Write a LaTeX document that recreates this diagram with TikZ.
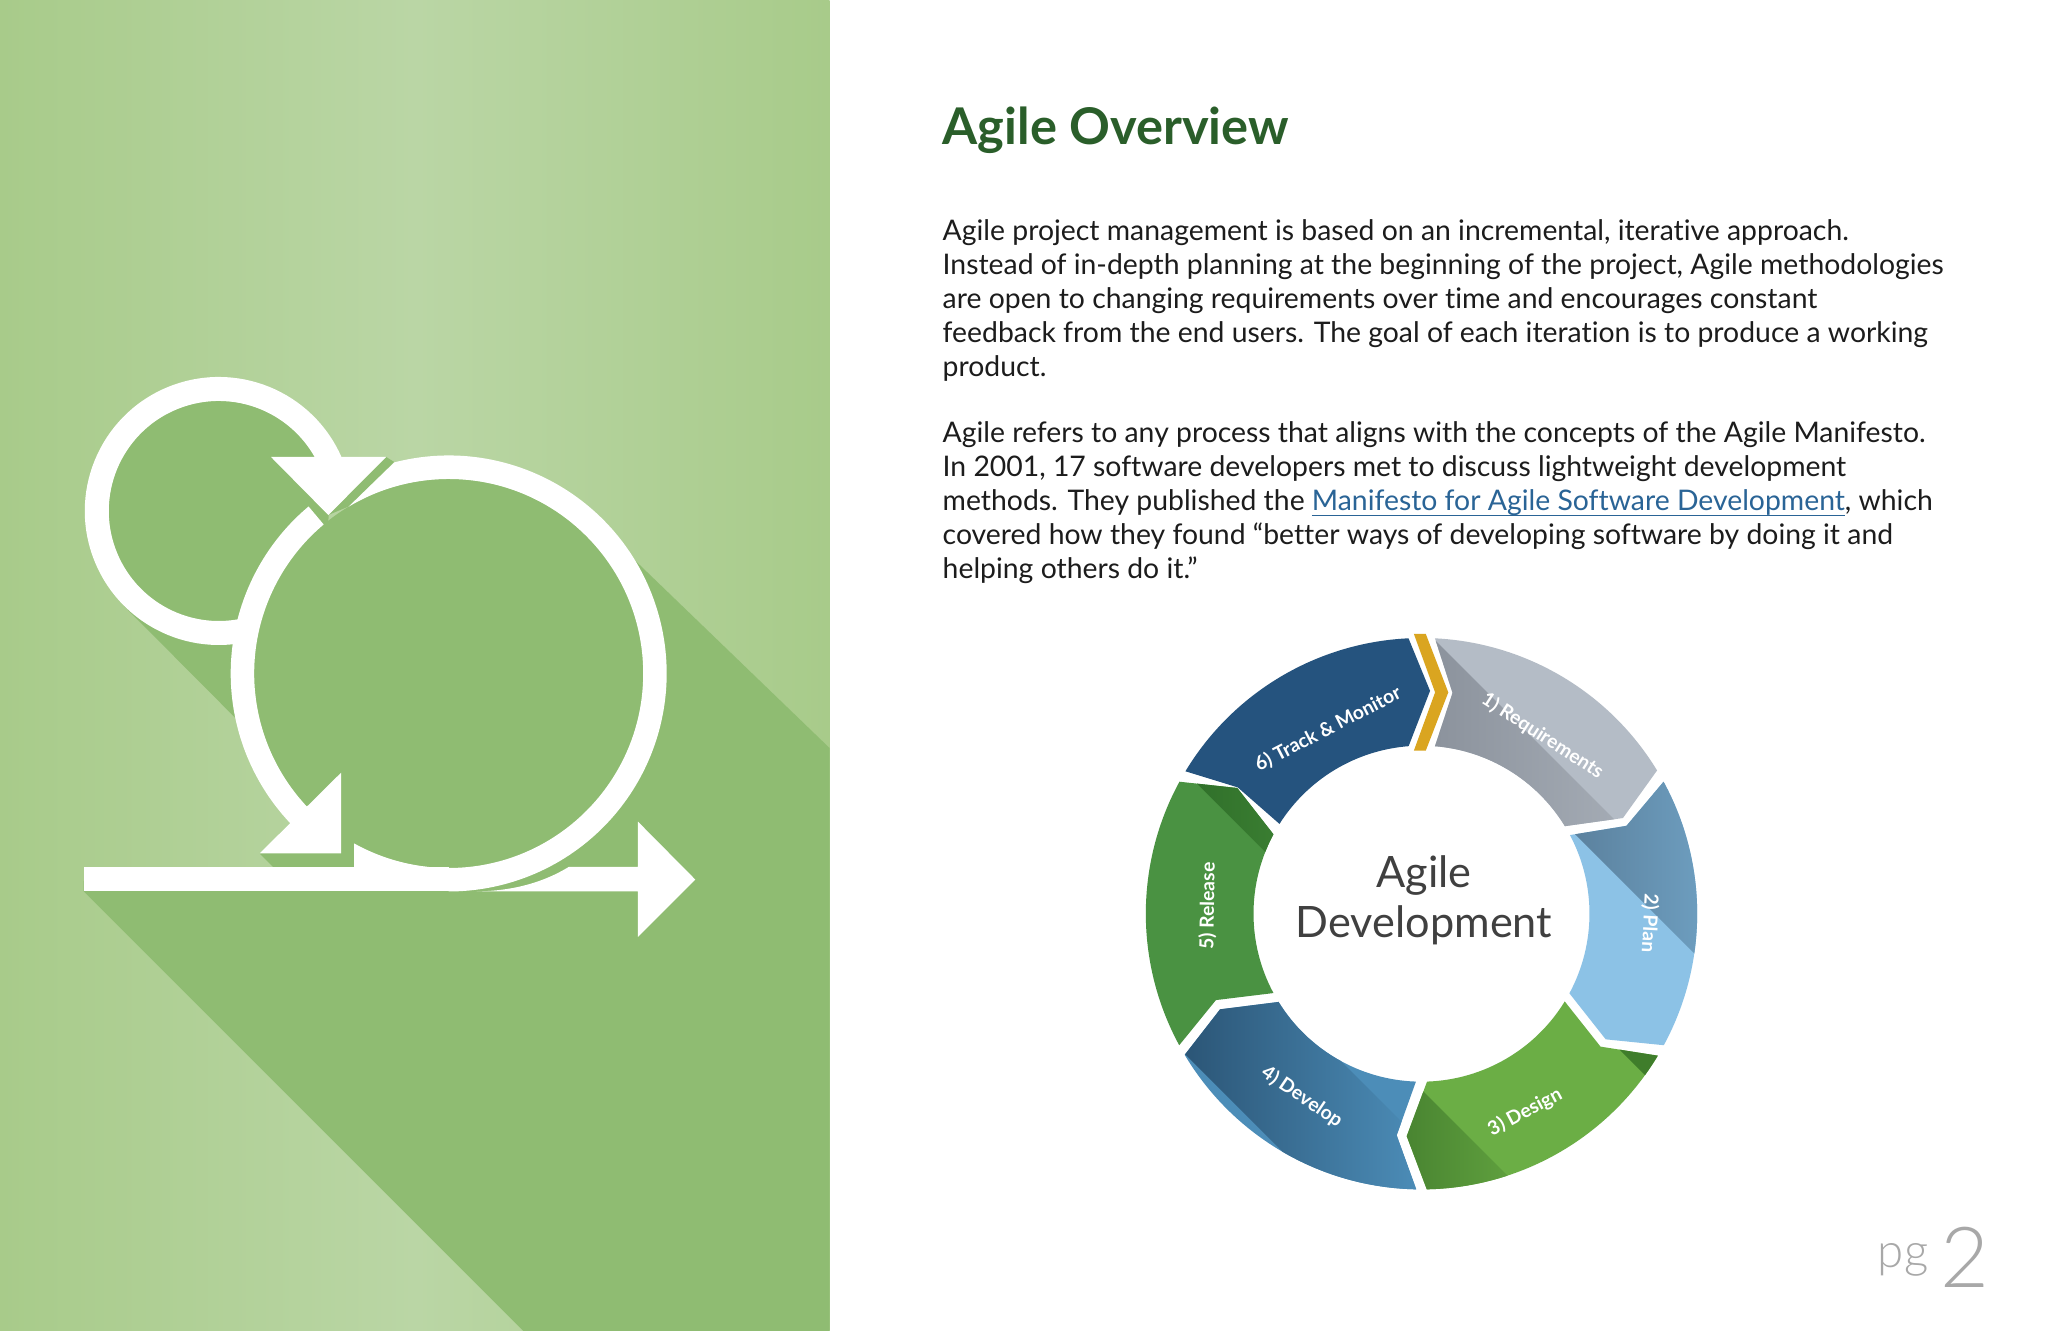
\documentclass[tikz,border=0pt]{standalone}
\usepackage{fontspec}
\usepackage{xcolor}
\setmainfont{Lato}[Ligatures=NoCommon]
\newfontfamily\lightfont{Lato Light}
\usetikzlibrary{calc}
\usetikzlibrary{positioning}
\definecolor{panelside}{HTML}{A8CB8A}
\definecolor{panelmid}{HTML}{BAD6A5}
\definecolor{shadowgreen}{HTML}{8FBC72}
\definecolor{titlegreen}{HTML}{2A5E2A}
\definecolor{linkblue}{HTML}{2A6496}
\definecolor{bodyblack}{HTML}{1C1C1C}
\definecolor{pagegrey}{HTML}{A8A8A8}
\definecolor{coregrey}{HTML}{404040}
\tikzset{
	bodytext/.style={anchor=north west,align=left,inner sep=0pt,text=bodyblack,font=\fontsize{8.07}{9.7}\selectfont},
	seglabel/.style={text=white,inner sep=0pt,font=\fontsize{5.5}{6}\selectfont\bfseries},
}
\newcommand{\segpath}[6]{(#1:2.757) arc[start angle=#1,end angle=#2,radius=2.757] -- (#3:2.23) -- (#4:1.68) arc[start angle=#4,end angle=#5,radius=1.68] -- (#6:2.23) -- cycle}
\begin{document}
\begin{tikzpicture}
	\useasboundingbox (0,0) rectangle (20.48,13.31);
	\fill[white] (0,0) rectangle (20.48,13.31);
	\shade[left color=panelside,right color=panelside,middle color=panelmid] (0,0) rectangle (8.295,13.31);
	\fill[shadowgreen] (0.837,4.396) -- (5.233,0) -- (8.295,0) -- (8.295,5.83) -- (6.335,7.72) -- (4.487,6.575) -- (4.487,4.5) -- (0.837,4.5) -- cycle;
	\fill[shadowgreen] (2.596,4.775) -- (2.731,4.64) -- (3.541,4.64) -- (3.541,5.0) -- (3.412,5.0) -- cycle;
	\fill[shadowgreen] (1.24,7.25) -- (2.354,6.13) -- (3,7) -- (2.188,8.2) -- cycle;
	\fill[shadowgreen] (3.862,8.74) -- (3.942,8.69) -- (3.486,8.245) -- (3.283,8.16) -- cycle;
	\begin{scope}[shift={(2.188,8.2)}]
		\fill[shadowgreen] (0,0) circle (1.1);
		\draw[white,line width=0.24cm] (20:1.22) arc[start angle=20,end angle=285,radius=1.22];
	\end{scope}
	\begin{scope}[shift={(4.487,6.575)}]
		\fill[shadowgreen] (0,0) circle (1.945);
		\fill[white] (104.45:2.18) arc[start angle=104.45,end angle=-90,radius=2.18] -- (-90:1.945) arc[start angle=-90,end angle=121,radius=1.945] -- cycle;
		\fill[white] (130:2.18) arc[start angle=130,end angle=226,radius=2.18] -- (226:1.945) arc[start angle=226,end angle=130,radius=1.945] -- cycle;
		\fill[white] (240.9:1.945) arc[start angle=240.9,end angle=270,radius=1.945] -- (-0.946,-1.96) -- cycle;
	\end{scope}
	\fill[white] (0.837,4.396) rectangle (4.487,4.64);
	\fill[white] (4.767,4.396) .. controls (5.14,4.40) and (5.44,4.49) .. (5.687,4.64) -- (6.379,4.64) -- (6.379,5.094) -- (6.953,4.514) -- (6.379,3.94) -- (6.379,4.396) -- cycle;
	\fill[white] (2.71,8.74) -- (3.862,8.74) -- (3.283,8.16) -- cycle;
	\fill[white] (3.412,5.584) -- (3.412,4.775) -- (2.596,4.775) -- cycle;

	\node[anchor=base west,inner sep=0pt,text=titlegreen,font=\fontsize{14.4}{17}\selectfont\bfseries] (title) at (9.42,11.86) {Agile Overview};
	\node[bodytext] (introtext) at (9.42,11.12) {Agile project management is based on an incremental, iterative approach.\\
		Instead of in-depth planning at the beginning of the project, Agile methodologies\\
		are open to changing requirements over time and encourages constant\\
		feedback from the end users. The goal of each iteration is to produce a working\\
		product.};
	\node[bodytext] (manifestotext) at (9.42,9.10) {Agile refers to any process that aligns with the concepts of the Agile Manifesto.\\
		In 2001, 17 software developers met to discuss lightweight development\\
		methods. They published the \textcolor{linkblue}{\underline{\smash{Manifesto for Agile Software Development}}}, which\\
		covered how they found “better ways of developing software by doing it and\\
		helping others do it.”};

	\begin{scope}[shift={(14.215,4.173)}]
		\begin{scope}
			\clip \segpath{87.2}{31.3}{25.4}{31.4}{85.4}{82};
			\fill[color={rgb,255:red,180;green,188;blue,198}] (-3,-3) rectangle (3,3);
			\shade[left color={rgb,255:red,138;green,145;blue,155},right color={rgb,255:red,176;green,183;blue,192}] (0,2.87) -- (2.87,0) -- (0,0) -- cycle;
		\end{scope}
		\begin{scope}
			\clip \segpath{28.6}{-28.5}{-34.3}{-28.3}{27.9}{23.2};
			\fill[color={rgb,255:red,140;green,194;blue,230}] (-3,-3) rectangle (3,3);
			\shade[left color={rgb,255:red,88;green,124;blue,152},right color={rgb,255:red,112;green,162;blue,196}] (1.3,1.03) -- (3,-0.67) -- (3,3) -- (1.3,3) -- cycle;
		\end{scope}
		\begin{scope}
			\clip \segpath{-31}{-88.9}{-93.8}{-88.1}{-31.5}{-36.6};
			\fill[color={rgb,255:red,107;green,174;blue,69}] (-3,-3) rectangle (3,3);
			\shade[left color={rgb,255:red,66;green,124;blue,45},right color={rgb,255:red,104;green,170;blue,67}] (-0.5,-1.26) -- (1.3,-3.06) -- (-0.5,-3.06) -- cycle;
			\fill[color={rgb,255:red,63;green,125;blue,43}] (1.5,-0.88) -- (3,-2.38) -- (3,-0.88) -- cycle;
		\end{scope}
		\begin{scope}
			\clip \segpath{-91.1}{-149.2}{-154.6}{-148.3}{-91.9}{-96.4};
			\fill[color={rgb,255:red,76;green,141;blue,184}] (-3,-3) rectangle (3,3);
			\shade[left color={rgb,255:red,40;green,80;blue,112},right color={rgb,255:red,76;green,141;blue,184}] (-2.6,0.32) -- (0,-2.28) -- (0,-3.77) -- (-2.6,-1.17) -- cycle;
		\end{scope}
		\begin{scope}
			\clip \segpath{-151.5}{-208.6}{145.7}{-208.2}{-151.8}{-157.2};
			\fill[color={rgb,255:red,74;green,146;blue,66}] (-3,-3) rectangle (3,3);
			\shade[left color={rgb,255:red,42;green,103;blue,38},right color={rgb,255:red,63;green,133;blue,53}] (-2.8,1.855) -- (-1,0.055) -- (-1,3) -- (-2.8,3) -- cycle;
		\end{scope}
		\fill[color={rgb,255:red,37;green,83;blue,126}] \segpath{148.9}{92.7}{87.8}{94.4}{147.7}{145.5};
	\end{scope}
	\fill[color={rgb,255:red,218;green,165;blue,32}] (14.139,6.97) -- (14.258,6.97) -- (14.483,6.386) -- (14.258,5.804) -- (14.139,5.804) -- (14.351,6.386) -- cycle;

	\node[seglabel,rotate=-32.8] (reqlabel) at (15.425,5.95) {1) Requirements};
	\node[seglabel,rotate=-93] (planlabel) at (16.495,4.08) {2) Plan};
	\node[seglabel,rotate=28] (designlabel) at (15.25,2.19) {3) Design};
	\node[seglabel,rotate=-34] (devlabel) at (13.02,2.34) {4) Develop};
	\node[seglabel,rotate=89] (releaselabel) at (12.08,4.25) {5) Release};
	\node[seglabel,rotate=27.3] (tracklabel) at (13.28,6.02) {6) Track \& Monitor};
	\node[align=center,inner sep=0pt,text=coregrey,font=\fontsize{12.3}{14.2}\selectfont] (core) at (14.24,4.31) {Agile\\Development};

	\node[anchor=base east,inner sep=0pt,text=pagegrey,font=\fontsize{13.5}{15}\selectfont\lightfont] (pglabel) at (19.29,0.63) {pg};
	\node[anchor=base west,inner sep=0pt,text=pagegrey,font=\fontsize{24}{28}\selectfont\lightfont] (pgnum) at (19.40,0.43) {2};
\end{tikzpicture}
\end{document}
